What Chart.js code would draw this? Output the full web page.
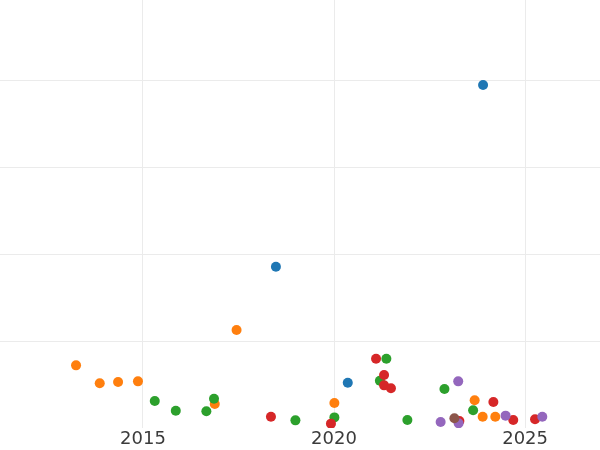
<!DOCTYPE html>
<html>
<head>
<meta charset="utf-8">
<script src="https://cdn.jsdelivr.net/npm/chart.js@4/dist/chart.umd.min.js"></script>
<style>
  body { margin: 0; background: #fff; }
  #wrap { width: 600px; height: 450px; }
</style>
</head>
<body>
<div id="wrap"><canvas id="myChart"></canvas></div>
<script>
// values: [year, value]
const blueSeries = [[2018.48, 92.7], [2023.90, 197.1], [2020.36, 26.0]];
const orangeSeries = [
    [2013.25, 36.0], [2013.87, 25.7], [2014.35, 26.4], [2014.87, 26.8],
    [2016.88, 13.8], [2017.45, 56.3], [2020.01, 14.4], [2023.68, 15.9],
    [2023.89, 6.5], [2024.22, 6.5]
];
const greenSeries = [
    [2015.31, 15.5], [2015.86, 9.9], [2016.66, 9.6], [2016.86, 16.8],
    [2018.99, 4.4], [2020.01, 6.1], [2021.37, 39.8], [2021.20, 27.2],
    [2021.92, 4.6], [2022.89, 22.4], [2023.64, 10.2]
];
const redSeries = [
    [2018.35, 6.5], [2019.92, 2.5], [2021.10, 39.8], [2021.31, 30.5],
    [2021.31, 24.5], [2021.49, 22.8], [2023.28, 4.0], [2024.17, 14.9],
    [2024.69, 4.6], [2025.26, 5.0]
];
const purpleSeries = [[2023.25, 26.8], [2024.49, 7.1], [2022.79, 3.4], [2023.26, 2.7], [2025.45, 6.5]];
const brownSeries = [[2023.15, 5.6]];

const xTicks = [2015, 2020, 2025];
const yTicks = [50, 100, 150, 200];

const allSeries = [blueSeries, orangeSeries, greenSeries, redSeries, purpleSeries, brownSeries];
const colors = ['#1f77b4', '#ff7f0e', '#2ca02c', '#d62728', '#9467bd', '#8c564b'];

const datasets = allSeries.map((s, i) => ({
    data: s.map(p => ({ x: p[0], y: p[1] })),
    backgroundColor: colors[i],
    borderWidth: 0,
    pointRadius: 5,
    pointHoverRadius: 5,
    clip: 0,
    order: allSeries.length - i
}));

const config = {
    type: 'scatter',
    data: { datasets: datasets },
    options: {
        responsive: true,
        maintainAspectRatio: false,
        animation: false,
        layout: { padding: 0, autoPadding: false },
        plugins: {
            legend: { display: false },
            tooltip: { enabled: false }
        },
        scales: {
            x: {
                type: 'linear',
                min: 2011.26,
                max: 2026.96,
                afterBuildTicks: (axis) => { axis.ticks = xTicks.map(v => ({ value: v })); },
                grid: { color: '#ebebeb', drawTicks: false },
                border: { display: false },
                ticks: {
                    padding: 2,
                    color: '#3b3b3b',
                    font: { family: 'DejaVu Sans', size: 18, lineHeight: 1.0 },
                    callback: (v) => String(v)
                }
            },
            y: {
                min: 0,
                max: 246,
                afterBuildTicks: (axis) => { axis.ticks = yTicks.map(v => ({ value: v })); },
                grid: { color: '#ebebeb', drawTicks: false },
                border: { display: false },
                ticks: { display: false }
            }
        }
    }
};

const ctx = document.getElementById('myChart').getContext('2d');
new Chart(ctx, config);
</script>
</body>
</html>
